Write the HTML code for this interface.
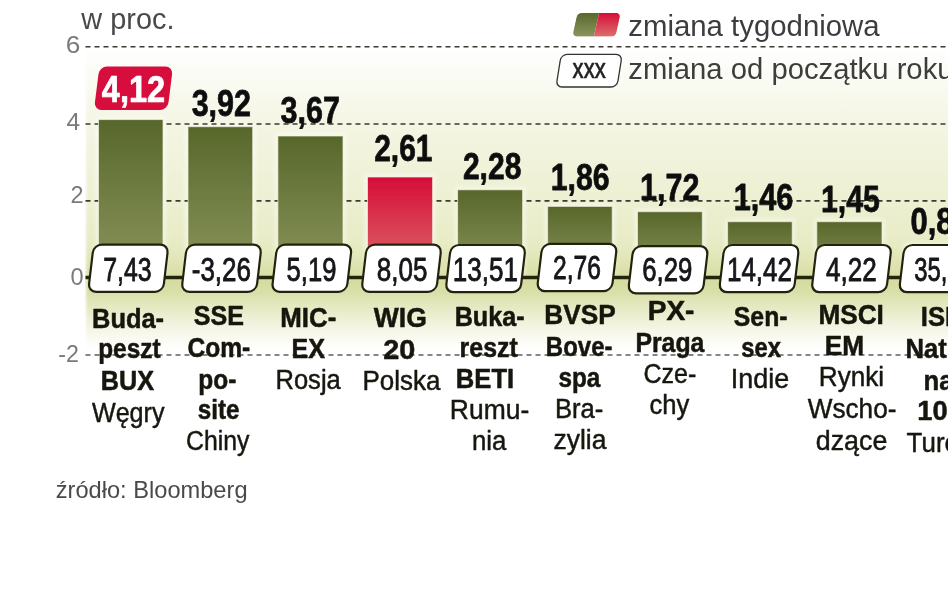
<!DOCTYPE html>
<html lang="pl"><head><meta charset="utf-8"><title>Zmiana indeksów</title>
<style>html,body{margin:0;padding:0;background:#fff}body{width:948px;height:593px;overflow:hidden}svg{display:block}svg{overflow:hidden}text{font-family:"Liberation Sans",sans-serif}</style>
</head><body>
<svg width="948" height="593" viewBox="0 0 948 593">
<defs>
<linearGradient id="bg" x1="0" y1="46" x2="0" y2="350" gradientUnits="userSpaceOnUse">
<stop offset="0.0000" stop-color="#ffffff"/>
<stop offset="0.1382" stop-color="#f9faf0"/>
<stop offset="0.2566" stop-color="#f4f5e3"/>
<stop offset="0.5066" stop-color="#edf0d2"/>
<stop offset="0.6546" stop-color="#e7ebc4"/>
<stop offset="0.7763" stop-color="#d6dca0"/>
<stop offset="0.8092" stop-color="#d9dfa8"/>
<stop offset="0.8355" stop-color="#e0e5b6"/>
<stop offset="0.9013" stop-color="#eff1d8"/>
<stop offset="0.9671" stop-color="#fbfbf4"/>
<stop offset="1.0000" stop-color="#ffffff"/>
</linearGradient>
<linearGradient id="gb" x1="0" y1="0" x2="0" y2="1"><stop offset="0" stop-color="#58672b"/><stop offset="1" stop-color="#8b965d"/></linearGradient>
<linearGradient id="rb" x1="0" y1="0" x2="0" y2="1"><stop offset="0" stop-color="#d60d38"/><stop offset="1" stop-color="#dc6f6c"/></linearGradient>
<linearGradient id="le" x1="0" y1="0" x2="1" y2="0"><stop offset="0" stop-color="#ffffff"/><stop offset="1" stop-color="#ffffff" stop-opacity="0"/></linearGradient>
<filter id="soft" x="-12" y="-12" width="980" height="620" filterUnits="userSpaceOnUse"><feGaussianBlur stdDeviation="0.7"/></filter>
<filter id="glow" x="-5%" y="-5%" width="110%" height="110%"><feGaussianBlur stdDeviation="2"/></filter>
</defs>
<rect x="0" y="0" width="948" height="593" fill="#ffffff"/>
<g filter="url(#soft)">
<rect x="85" y="46" width="880" height="304" fill="url(#bg)"/>
<rect x="84" y="46" width="4" height="304" fill="url(#le)"/>
<g filter="url(#glow)" fill="#ffffff" fill-opacity="0.5">
<rect x="96.0" y="117.1" width="69.5" height="160.9"/>
<rect x="185.5" y="124.2" width="69.7" height="153.8"/>
<rect x="275.4" y="133.5" width="70.1" height="144.5"/>
<rect x="365.0" y="174.5" width="70.1" height="103.5"/>
<rect x="455.1" y="187.3" width="70.0" height="90.7"/>
<rect x="545.1" y="203.9" width="69.6" height="74.1"/>
<rect x="635.0" y="209.2" width="69.8" height="68.8"/>
<rect x="725.1" y="219.2" width="69.6" height="58.8"/>
<rect x="814.3" y="219.2" width="70.2" height="58.8"/>
<rect x="904.0" y="243.5" width="69.5" height="34.5"/>
</g>
<line x1="85.5" y1="46.7" x2="962" y2="46.7" stroke="#3a3a30" stroke-width="1.6" stroke-dasharray="5 4"/>
<line x1="85.5" y1="124" x2="962" y2="124" stroke="#3a3a30" stroke-width="1.6" stroke-dasharray="5 4"/>
<line x1="85.5" y1="200.9" x2="962" y2="200.9" stroke="#3a3a30" stroke-width="1.6" stroke-dasharray="5 4"/>
<line x1="85.5" y1="355" x2="962" y2="355" stroke="#5e5e5e" stroke-width="1.4" stroke-dasharray="5 4"/>
<rect x="98.5" y="119.6" width="64.5" height="158.4" fill="url(#gb)" stroke="#f0f2dc" stroke-opacity="0.7" stroke-width="1"/>
<rect x="188" y="126.7" width="64.7" height="151.3" fill="url(#gb)" stroke="#f0f2dc" stroke-opacity="0.7" stroke-width="1"/>
<rect x="277.9" y="136" width="65.1" height="142.0" fill="url(#gb)" stroke="#f0f2dc" stroke-opacity="0.7" stroke-width="1"/>
<rect x="367.5" y="177" width="65.1" height="101.0" fill="url(#rb)" stroke="#f0f2dc" stroke-opacity="0.7" stroke-width="1"/>
<rect x="457.6" y="189.8" width="65.0" height="88.2" fill="url(#gb)" stroke="#f0f2dc" stroke-opacity="0.7" stroke-width="1"/>
<rect x="547.6" y="206.4" width="64.6" height="71.6" fill="url(#gb)" stroke="#f0f2dc" stroke-opacity="0.7" stroke-width="1"/>
<rect x="637.5" y="211.7" width="64.8" height="66.3" fill="url(#gb)" stroke="#f0f2dc" stroke-opacity="0.7" stroke-width="1"/>
<rect x="727.6" y="221.7" width="64.6" height="56.3" fill="url(#gb)" stroke="#f0f2dc" stroke-opacity="0.7" stroke-width="1"/>
<rect x="816.8" y="221.7" width="65.2" height="56.3" fill="url(#gb)" stroke="#f0f2dc" stroke-opacity="0.7" stroke-width="1"/>
<rect x="906.5" y="246" width="64.5" height="32.0" fill="url(#gb)" stroke="#f0f2dc" stroke-opacity="0.7" stroke-width="1"/>
<line x1="85.5" y1="277.5" x2="962" y2="277.5" stroke="#23260f" stroke-width="3.4"/>
<rect x="-37.4" y="-23.6" width="74.8" height="47.2" rx="8" ry="8" fill="#ffffff" stroke="#22240f" stroke-width="2.2" transform="translate(128.3 268.3) skewX(-6.7)"/>
<rect x="-37.4" y="-23.6" width="74.8" height="47.2" rx="8" ry="8" fill="#ffffff" stroke="#22240f" stroke-width="2.2" transform="translate(221.5 268.3) skewX(-6.7)"/>
<rect x="-37.4" y="-23.6" width="74.8" height="47.2" rx="8" ry="8" fill="#ffffff" stroke="#22240f" stroke-width="2.2" transform="translate(311.8 268.3) skewX(-6.7)"/>
<rect x="-37.4" y="-23.6" width="74.8" height="47.2" rx="8" ry="8" fill="#ffffff" stroke="#22240f" stroke-width="2.2" transform="translate(401.5 268.3) skewX(-6.7)"/>
<rect x="-37.4" y="-23.6" width="74.8" height="47.2" rx="8" ry="8" fill="#ffffff" stroke="#22240f" stroke-width="2.2" transform="translate(485.6 268.6) skewX(-6.7)"/>
<rect x="-37.4" y="-23.6" width="74.8" height="47.2" rx="8" ry="8" fill="#ffffff" stroke="#22240f" stroke-width="2.2" transform="translate(577 267.5) skewX(-6.7)"/>
<rect x="-37.4" y="-23.6" width="74.8" height="47.2" rx="8" ry="8" fill="#ffffff" stroke="#22240f" stroke-width="2.2" transform="translate(668.1 269.7) skewX(-6.7)"/>
<rect x="-37.4" y="-23.6" width="74.8" height="47.2" rx="8" ry="8" fill="#ffffff" stroke="#22240f" stroke-width="2.2" transform="translate(759.1 268.6) skewX(-6.7)"/>
<rect x="-37.4" y="-23.6" width="74.8" height="47.2" rx="8" ry="8" fill="#ffffff" stroke="#22240f" stroke-width="2.2" transform="translate(851.5 268.6) skewX(-6.7)"/>
<rect x="-37.4" y="-23.6" width="74.8" height="47.2" rx="8" ry="8" fill="#ffffff" stroke="#22240f" stroke-width="2.2" transform="translate(939.1 268.6) skewX(-6.7)"/>
<rect x="-36.8" y="-21.7" width="73.6" height="43.4" rx="7.5" ry="7.5" fill="#d60f3c" transform="translate(133.5 88.3) skewX(-7.2)"/>
<clipPath id="sw"><rect x="-21.6" y="-11.7" width="43.2" height="23.4" rx="4.5" ry="4.5"/></clipPath>
<g transform="translate(596.5 24.7) skewX(-12.5)"><g clip-path="url(#sw)">
<rect x="-22" y="-12" width="22" height="24" fill="url(#gb)"/>
<rect x="0" y="-12" width="22" height="24" fill="url(#rb)"/>
</g></g>
<rect x="-30.5" y="-16.3" width="61" height="32.6" rx="6" ry="6" fill="#ffffff" stroke="#333333" stroke-width="1.3" transform="translate(589.1 70.7) skewX(-9)"/>
<text transform="translate(65.77 53) scale(1.1409 1.0)" font-size="23" fill="#7a7a7a">6</text>
<text transform="translate(66.52 130.4) scale(1.0625 1.0)" font-size="23" fill="#7a7a7a">4</text>
<text transform="translate(70.40 203) scale(1.0203 1.0)" font-size="23" fill="#7a7a7a">2</text>
<text transform="translate(70.46 285.4) scale(1.0261 1.0)" font-size="23" fill="#7a7a7a">0</text>
<text transform="translate(58.27 362) scale(1.0106 1.0)" font-size="23" fill="#7a7a7a">-2</text>
<text transform="translate(81.35 29) scale(0.9624 1.0)" font-size="30" fill="#4a4a4a">w proc.</text>
<text transform="translate(103.21 280.5) scale(0.7632 1.0)" font-size="32.6" fill="#15151a" stroke="#15151a" stroke-width="0.75" stroke-linejoin="round" vector-effect="non-scaling-stroke">7,43</text>
<text transform="translate(191.76 280.5) scale(0.7969 1.0)" font-size="32.6" fill="#15151a" stroke="#15151a" stroke-width="0.75" stroke-linejoin="round" vector-effect="non-scaling-stroke">-3,26</text>
<text transform="translate(286.57 280.5) scale(0.7863 1.0)" font-size="32.6" fill="#15151a" stroke="#15151a" stroke-width="0.75" stroke-linejoin="round" vector-effect="non-scaling-stroke">5,19</text>
<text transform="translate(376.76 280.5) scale(0.7978 1.0)" font-size="32.6" fill="#15151a" stroke="#15151a" stroke-width="0.75" stroke-linejoin="round" vector-effect="non-scaling-stroke">8,05</text>
<text transform="translate(452.75 280.5) scale(0.7984 1.0)" font-size="32.6" fill="#15151a" stroke="#15151a" stroke-width="0.75" stroke-linejoin="round" vector-effect="non-scaling-stroke">13,51</text>
<text transform="translate(553.02 279.2) scale(0.7550 1.0)" font-size="32.6" fill="#15151a" stroke="#15151a" stroke-width="0.75" stroke-linejoin="round" vector-effect="non-scaling-stroke">2,76</text>
<text transform="translate(642.17 281.2) scale(0.7913 1.0)" font-size="32.6" fill="#15151a" stroke="#15151a" stroke-width="0.75" stroke-linejoin="round" vector-effect="non-scaling-stroke">6,29</text>
<text transform="translate(726.95 280.5) scale(0.7971 1.0)" font-size="32.6" fill="#15151a" stroke="#15151a" stroke-width="0.75" stroke-linejoin="round" vector-effect="non-scaling-stroke">14,42</text>
<text transform="translate(826.07 280.5) scale(0.8009 1.0)" font-size="32.6" fill="#15151a" stroke="#15151a" stroke-width="0.75" stroke-linejoin="round" vector-effect="non-scaling-stroke">4,22</text>
<text transform="translate(914.23 280.5) scale(0.7300 1.0)" font-size="32.6" fill="#15151a" stroke="#15151a" stroke-width="0.75" stroke-linejoin="round" vector-effect="non-scaling-stroke">35,</text>
<text transform="translate(101.85 101.5) scale(0.8744 1.0)" font-size="37.2" font-weight="bold" fill="#ffffff" stroke="#ffffff" stroke-width="0.7" stroke-linejoin="round" vector-effect="non-scaling-stroke">4,12</text>
<text transform="translate(191.67 116) scale(0.8195 1.0)" font-size="37.2" font-weight="bold" fill="#111111" stroke="#111111" stroke-width="0.7" stroke-linejoin="round" vector-effect="non-scaling-stroke">3,92</text>
<text transform="translate(280.47 123.3) scale(0.8206 1.0)" font-size="37.2" font-weight="bold" fill="#111111" stroke="#111111" stroke-width="0.7" stroke-linejoin="round" vector-effect="non-scaling-stroke">3,67</text>
<text transform="translate(374.21 161.4) scale(0.8050 1.0)" font-size="37.2" font-weight="bold" fill="#111111" stroke="#111111" stroke-width="0.7" stroke-linejoin="round" vector-effect="non-scaling-stroke">2,61</text>
<text transform="translate(462.91 178.5) scale(0.8078 1.0)" font-size="37.2" font-weight="bold" fill="#111111" stroke="#111111" stroke-width="0.7" stroke-linejoin="round" vector-effect="non-scaling-stroke">2,28</text>
<text transform="translate(550.76 189.5) scale(0.8142 1.0)" font-size="37.2" font-weight="bold" fill="#111111" stroke="#111111" stroke-width="0.7" stroke-linejoin="round" vector-effect="non-scaling-stroke">1,86</text>
<text transform="translate(640.04 200.3) scale(0.8199 1.0)" font-size="37.2" font-weight="bold" fill="#111111" stroke="#111111" stroke-width="0.7" stroke-linejoin="round" vector-effect="non-scaling-stroke">1,72</text>
<text transform="translate(733.63 210.3) scale(0.8257 1.0)" font-size="37.2" font-weight="bold" fill="#111111" stroke="#111111" stroke-width="0.7" stroke-linejoin="round" vector-effect="non-scaling-stroke">1,46</text>
<text transform="translate(820.96 212.2) scale(0.8142 1.0)" font-size="37.2" font-weight="bold" fill="#111111" stroke="#111111" stroke-width="0.7" stroke-linejoin="round" vector-effect="non-scaling-stroke">1,45</text>
<text transform="translate(910.59 234) scale(0.8300 1.0)" font-size="37.2" font-weight="bold" fill="#111111" stroke="#111111" stroke-width="0.7" stroke-linejoin="round" vector-effect="non-scaling-stroke">0,8</text>
<text transform="translate(92.06 327.5) scale(0.9310 1.0)" font-size="27.3" font-weight="bold" fill="#16160f" stroke="#16160f" stroke-width="0.5" stroke-linejoin="round" vector-effect="non-scaling-stroke">Buda-</text>
<text transform="translate(98.23 358.0) scale(0.8934 1.0)" font-size="27.3" font-weight="bold" fill="#16160f" stroke="#16160f" stroke-width="0.5" stroke-linejoin="round" vector-effect="non-scaling-stroke">peszt</text>
<text transform="translate(100.87 390.3) scale(0.9239 1.0)" font-size="27.3" font-weight="bold" fill="#16160f" stroke="#16160f" stroke-width="0.5" stroke-linejoin="round" vector-effect="non-scaling-stroke">BUX</text>
<text transform="translate(91.92 421.5) scale(0.9313 1.0)" font-size="27.0" fill="#16160f" stroke="#16160f" stroke-width="0.45" stroke-linejoin="round" vector-effect="non-scaling-stroke">Węgry</text>
<text transform="translate(193.86 325.0) scale(0.9181 1.0)" font-size="27.3" font-weight="bold" fill="#16160f" stroke="#16160f" stroke-width="0.5" stroke-linejoin="round" vector-effect="non-scaling-stroke">SSE</text>
<text transform="translate(187.48 356.90000000000003) scale(0.9011 1.0)" font-size="27.3" font-weight="bold" fill="#16160f" stroke="#16160f" stroke-width="0.5" stroke-linejoin="round" vector-effect="non-scaling-stroke">Com-</text>
<text transform="translate(198.32 388.90000000000003) scale(0.8981 1.0)" font-size="27.3" font-weight="bold" fill="#16160f" stroke="#16160f" stroke-width="0.5" stroke-linejoin="round" vector-effect="non-scaling-stroke">po-</text>
<text transform="translate(197.69 419.3) scale(0.8877 1.0)" font-size="27.3" font-weight="bold" fill="#16160f" stroke="#16160f" stroke-width="0.5" stroke-linejoin="round" vector-effect="non-scaling-stroke">site</text>
<text transform="translate(186.06 450.2) scale(0.9186 1.0)" font-size="27.0" fill="#16160f" stroke="#16160f" stroke-width="0.45" stroke-linejoin="round" vector-effect="non-scaling-stroke">Chiny</text>
<text transform="translate(280.33 326.90000000000003) scale(0.9479 1.0)" font-size="27.3" font-weight="bold" fill="#16160f" stroke="#16160f" stroke-width="0.5" stroke-linejoin="round" vector-effect="non-scaling-stroke">MIC-</text>
<text transform="translate(291.48 358.1) scale(0.9212 1.0)" font-size="27.3" font-weight="bold" fill="#16160f" stroke="#16160f" stroke-width="0.5" stroke-linejoin="round" vector-effect="non-scaling-stroke">EX</text>
<text transform="translate(275.43 389.0) scale(0.9472 1.0)" font-size="27.0" fill="#16160f" stroke="#16160f" stroke-width="0.45" stroke-linejoin="round" vector-effect="non-scaling-stroke">Rosja</text>
<text transform="translate(373.75 326.90000000000003) scale(0.9722 1.0)" font-size="27.3" font-weight="bold" fill="#16160f" stroke="#16160f" stroke-width="0.5" stroke-linejoin="round" vector-effect="non-scaling-stroke">WIG</text>
<text transform="translate(383.15 358.90000000000003) scale(1.0596 1.0)" font-size="27.3" font-weight="bold" fill="#16160f" stroke="#16160f" stroke-width="0.5" stroke-linejoin="round" vector-effect="non-scaling-stroke">20</text>
<text transform="translate(362.50 390.40000000000003) scale(0.9614 1.0)" font-size="27.0" fill="#16160f" stroke="#16160f" stroke-width="0.45" stroke-linejoin="round" vector-effect="non-scaling-stroke">Polska</text>
<text transform="translate(454.68 325.5) scale(0.9227 1.0)" font-size="27.3" font-weight="bold" fill="#16160f" stroke="#16160f" stroke-width="0.5" stroke-linejoin="round" vector-effect="non-scaling-stroke">Buka-</text>
<text transform="translate(459.59 356.90000000000003) scale(0.9129 1.0)" font-size="27.3" font-weight="bold" fill="#16160f" stroke="#16160f" stroke-width="0.5" stroke-linejoin="round" vector-effect="non-scaling-stroke">reszt</text>
<text transform="translate(455.85 388.1) scale(0.9377 1.0)" font-size="27.3" font-weight="bold" fill="#16160f" stroke="#16160f" stroke-width="0.5" stroke-linejoin="round" vector-effect="non-scaling-stroke">BETI</text>
<text transform="translate(449.86 418.8) scale(0.9797 1.0)" font-size="27.0" fill="#16160f" stroke="#16160f" stroke-width="0.45" stroke-linejoin="round" vector-effect="non-scaling-stroke">Rumu-</text>
<text transform="translate(472.01 450.2) scale(0.9547 1.0)" font-size="27.0" fill="#16160f" stroke="#16160f" stroke-width="0.45" stroke-linejoin="round" vector-effect="non-scaling-stroke">nia</text>
<text transform="translate(544.31 324.1) scale(0.9595 1.0)" font-size="27.3" font-weight="bold" fill="#16160f" stroke="#16160f" stroke-width="0.5" stroke-linejoin="round" vector-effect="non-scaling-stroke">BVSP</text>
<text transform="translate(545.85 356.1) scale(0.8790 1.0)" font-size="27.3" font-weight="bold" fill="#16160f" stroke="#16160f" stroke-width="0.5" stroke-linejoin="round" vector-effect="non-scaling-stroke">Bove-</text>
<text transform="translate(558.49 386.7) scale(0.8908 1.0)" font-size="27.3" font-weight="bold" fill="#16160f" stroke="#16160f" stroke-width="0.5" stroke-linejoin="round" vector-effect="non-scaling-stroke">spa</text>
<text transform="translate(555.02 418.2) scale(0.9484 1.0)" font-size="27.0" fill="#16160f" stroke="#16160f" stroke-width="0.45" stroke-linejoin="round" vector-effect="non-scaling-stroke">Bra-</text>
<text transform="translate(553.40 448.8) scale(0.9833 1.0)" font-size="27.0" fill="#16160f" stroke="#16160f" stroke-width="0.45" stroke-linejoin="round" vector-effect="non-scaling-stroke">zylia</text>
<text transform="translate(647.70 319.90000000000003) scale(1.0276 1.0)" font-size="27.3" font-weight="bold" fill="#16160f" stroke="#16160f" stroke-width="0.5" stroke-linejoin="round" vector-effect="non-scaling-stroke">PX-</text>
<text transform="translate(635.40 351.90000000000003) scale(0.9093 1.0)" font-size="27.3" font-weight="bold" fill="#16160f" stroke="#16160f" stroke-width="0.5" stroke-linejoin="round" vector-effect="non-scaling-stroke">Praga</text>
<text transform="translate(643.55 382.6) scale(0.9267 1.0)" font-size="27.0" fill="#16160f" stroke="#16160f" stroke-width="0.45" stroke-linejoin="round" vector-effect="non-scaling-stroke">Cze-</text>
<text transform="translate(649.42 414.0) scale(0.9485 1.0)" font-size="27.0" fill="#16160f" stroke="#16160f" stroke-width="0.45" stroke-linejoin="round" vector-effect="non-scaling-stroke">chy</text>
<text transform="translate(733.86 325.5) scale(0.9074 1.0)" font-size="27.3" font-weight="bold" fill="#16160f" stroke="#16160f" stroke-width="0.5" stroke-linejoin="round" vector-effect="non-scaling-stroke">Sen-</text>
<text transform="translate(741.31 356.90000000000003) scale(0.8692 1.0)" font-size="27.3" font-weight="bold" fill="#16160f" stroke="#16160f" stroke-width="0.5" stroke-linejoin="round" vector-effect="non-scaling-stroke">sex</text>
<text transform="translate(730.82 388.1) scale(0.9965 1.0)" font-size="27.0" fill="#16160f" stroke="#16160f" stroke-width="0.45" stroke-linejoin="round" vector-effect="non-scaling-stroke">Indie</text>
<text transform="translate(818.41 324.1) scale(0.9595 1.0)" font-size="27.3" font-weight="bold" fill="#16160f" stroke="#16160f" stroke-width="0.5" stroke-linejoin="round" vector-effect="non-scaling-stroke">MSCI</text>
<text transform="translate(824.81 355.3) scale(0.9622 1.0)" font-size="27.3" font-weight="bold" fill="#16160f" stroke="#16160f" stroke-width="0.5" stroke-linejoin="round" vector-effect="non-scaling-stroke">EM</text>
<text transform="translate(818.78 386.2) scale(0.9674 1.0)" font-size="27.0" fill="#16160f" stroke="#16160f" stroke-width="0.45" stroke-linejoin="round" vector-effect="non-scaling-stroke">Rynki</text>
<text transform="translate(807.73 418.2) scale(0.9693 1.0)" font-size="27.0" fill="#16160f" stroke="#16160f" stroke-width="0.45" stroke-linejoin="round" vector-effect="non-scaling-stroke">Wscho-</text>
<text transform="translate(815.79 449.6) scale(0.9934 1.0)" font-size="27.0" fill="#16160f" stroke="#16160f" stroke-width="0.45" stroke-linejoin="round" vector-effect="non-scaling-stroke">dzące</text>
<text transform="translate(920.75 326.3) scale(0.9400 1.0)" font-size="27.3" font-weight="bold" fill="#16160f" stroke="#16160f" stroke-width="0.5" stroke-linejoin="round" vector-effect="non-scaling-stroke">ISE</text>
<text transform="translate(905.45 358.1) scale(0.9400 1.0)" font-size="27.3" font-weight="bold" fill="#16160f" stroke="#16160f" stroke-width="0.5" stroke-linejoin="round" vector-effect="non-scaling-stroke">Natio-</text>
<text transform="translate(923.55 389.5) scale(0.9400 1.0)" font-size="27.3" font-weight="bold" fill="#16160f" stroke="#16160f" stroke-width="0.5" stroke-linejoin="round" vector-effect="non-scaling-stroke">nal</text>
<text transform="translate(917.34 420.1) scale(1.0000 1.0)" font-size="27.3" font-weight="bold" fill="#16160f" stroke="#16160f" stroke-width="0.5" stroke-linejoin="round" vector-effect="non-scaling-stroke">100</text>
<text transform="translate(906.62 451.6) scale(0.9600 1.0)" font-size="27.0" fill="#16160f" stroke="#16160f" stroke-width="0.45" stroke-linejoin="round" vector-effect="non-scaling-stroke">Turcja</text>
<text transform="translate(55.76 497.5) scale(1.0018 1.0)" font-size="23.6" fill="#4a4a4a">źródło: Bloomberg</text>
<text transform="translate(628.28 35.6) scale(0.9956 1.0)" font-size="29.5" fill="#3c3c3c">zmiana tygodniowa</text>
<text transform="translate(572.60 77.6) scale(0.7743 1.0)" font-size="28.5" fill="#222222" stroke="#222222" stroke-width="0.6" stroke-linejoin="round" vector-effect="non-scaling-stroke">xxx</text>
<text transform="translate(628.29 78.5) scale(0.9920 1.0)" font-size="29.5" fill="#3c3c3c">zmiana od początku roku</text>
</g>
</svg>
</body></html>
